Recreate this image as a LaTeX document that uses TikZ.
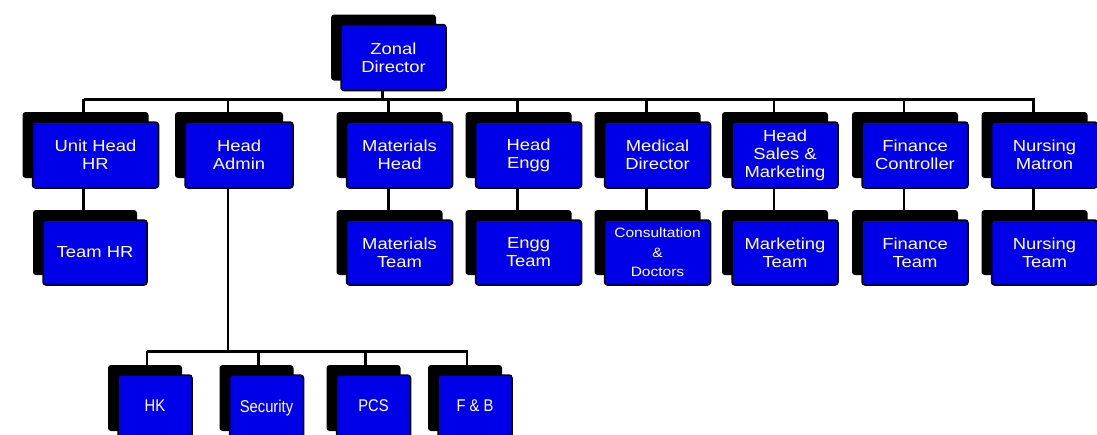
\documentclass[tikz,border=0pt]{standalone}
\usepackage{fontspec}
\setmainfont[FakeStretch=1.15]{Liberation Sans}
\newfontfamily\narrowfont[FakeStretch=0.87]{Liberation Sans}
\usetikzlibrary{shadows,backgrounds}
\definecolor{boxblue}{RGB}{0,0,232}
\tikzset{
  bbox/.style={rectangle, rounded corners=3pt, fill=boxblue, draw=black, line width=1.5pt,
    text=white, align=center, minimum width=106pt, minimum height=66pt, inner sep=1pt,
    font=\fontsize{16}{18}\selectfont,
    drop shadow={shadow xshift=-10pt, shadow yshift=10pt, opacity=1, fill=black}},
  smallbox/.style={bbox, minimum width=74pt, font=\narrowfont\fontsize{17}{18}\selectfont},
  tree/.style={line width=2.5pt, black}
}
\begin{document}
\begin{tikzpicture}[x=1pt,y=-1pt]
\useasboundingbox (0,0) rectangle (1097,434);
\clip (0,0) rectangle (1097,434);
% top
\node[bbox, minimum width=105pt] (zd) at (393.5,57.5) {Zonal\\Director};
% row 1
\node[bbox, minimum width=126pt] (uhr) at (95.5,155) {Unit Head\\HR};
\node[bbox, minimum width=108pt] (ha) at (239,155) {Head\\Admin};
\node[bbox] (mh) at (399.5,155) {Materials\\Head};
\node[bbox] (he) at (528.5,155) {Head\\Engg};
\node[bbox] (md) at (657.5,155) {Medical\\Director};
\node[bbox] (hs) at (785,155) {Head\\Sales \&\\Marketing};
\node[bbox] (fc) at (915,155) {Finance\\Controller};
\node[bbox] (nm) at (1044.5,155) {Nursing\\Matron};
% row 2
\node[bbox, minimum width=104pt, minimum height=65pt] (thr) at (95,252.5) {Team HR};
\node[bbox, minimum height=65pt] (mt) at (399.5,252.5) {Materials\\Team};
\node[bbox, minimum height=65pt] (et) at (528.5,252.5) {Engg\\Team};
\node[bbox, minimum height=65pt, font=\fontsize{13.5}{19.5}\selectfont] (cd) at (657.5,252.5) {Consultation\\\&\\Doctors};
\node[bbox, minimum height=65pt] (mkt) at (785,252.5) {Marketing\\Team};
\node[bbox, minimum height=65pt] (ft) at (915,252.5) {Finance\\Team};
\node[bbox, minimum height=65pt] (nt) at (1044.5,252.5) {Nursing\\Team};
% row 3
\node[smallbox] (hk) at (155,408) {\raisebox{4pt}{HK}};
\node[smallbox] (sec) at (266.5,408) {\raisebox{4pt}{Security}};
\node[smallbox] (pcs) at (373.5,408) {\raisebox{4pt}{PCS}};
\node[smallbox] (fb) at (475,408) {\raisebox{4pt}{F \& B}};
% connectors
\begin{scope}[on background layer]
\draw[tree] ([xshift=-11pt]zd.south) -- +(0,10);
\draw[tree] ([xshift=-12pt]uhr.north) ++(0,-22) -| ([xshift=-11pt]nm.north);
\draw[tree] ([xshift=-12pt]uhr.north) -- +(0,-22);
\foreach \n in {ha,mh,he,md,hs,fc}{\draw[tree] ([xshift=-11pt]\n.north) -- +(0,-22);}
\draw[tree] ([xshift=-12pt]uhr.south) -- ([xshift=-12pt]uhr.south |- thr.north);
\foreach \a/\b in {mh/mt,he/et,md/cd,hs/mkt,fc/ft,nm/nt}{
  \draw[tree] ([xshift=-11pt]\a.south) -- ([xshift=-11pt]\b.north);}
\draw[tree] ([xshift=-11pt]ha.south) -- +(0,164);
\draw[tree] ([xshift=-8pt]hk.north) ++(0,-23) -| ([xshift=-8pt]fb.north);
\draw[tree] ([xshift=-8pt]hk.north) -- +(0,-23);
\foreach \n in {sec,pcs}{\draw[tree] ([xshift=-8pt]\n.north) -- +(0,-23);}
\end{scope}
\end{tikzpicture}
\end{document}
